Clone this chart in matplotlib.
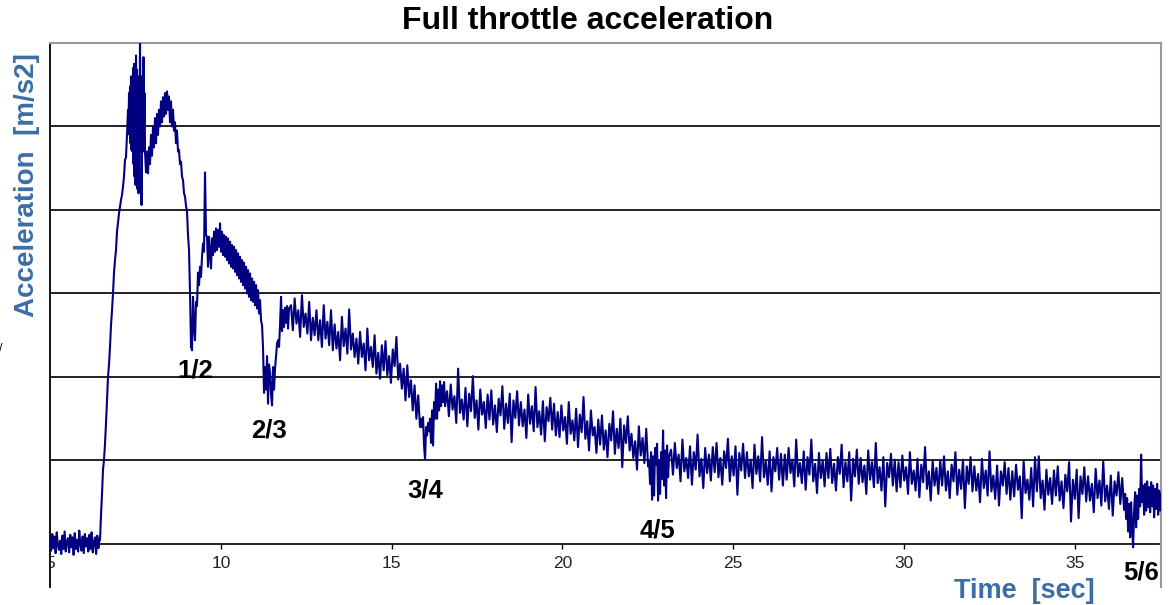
import numpy as np
import matplotlib
matplotlib.use("Agg")
import matplotlib.pyplot as plt

plt.rcParams['font.family'] = ['Liberation Sans', 'DejaVu Sans']
plt.rcParams['path.simplify'] = False

# ---------------- data (acceleration in 1/100 m/s2) ----------------
baseline = [6, -8, 12, -5, 9, -11, 14, -2, -7, 4, -12, 10, -6, 15, -9, 3, 7, -10, 11, -4, 8,
            -13, 13, -6, 5, -9, 16, -1, -8, 9, -11, 12, -3, 7, -9, 11, -6, 14, -10, 2, 8, -12,
            10, -5, 6]
rise = [5, 35, 60, 89, 101, 120, 145, 172, 200, 215, 236, 262, 280, 300, 325, 340, 352, 374,
        385, 396, 404, 412, 418, 428, 440, 460, 463, 490, 520]
peak = [498, 540, 490, 548, 480, 560, 472, 552, 470, 570, 455, 575, 440, 560, 430, 585, 450,
        568, 425, 540, 420, 560, 470, 605, 500, 560, 406, 480, 530, 470, 583, 500, 540, 470]
hump = [445, 470, 444, 475, 455, 490, 465, 500, 475, 510,
        480, 515, 490, 520, 500, 530, 505, 535, 512, 540,
        515, 542, 520, 536, 505, 530, 500, 520, 495, 505,
        480, 495, 470, 472, 455, 458, 440, 436, 420, 416,
        405, 398, 370, 352, 301, 236, 232, 296, 260, 244,
        290, 285, 325, 310, 332, 320, 344, 360, 350, 445,
        370, 368, 332,
        368, 348, 330, 366, 346, 374, 350, 378, 352, 376, 356, 384, 350, 374, 346, 370, 344,
        368, 340, 366, 336, 362, 332, 358, 330, 356, 326, 352, 322, 348, 318, 344, 314, 340,
        310, 337, 306, 332, 300, 328, 296, 324, 292, 318, 290, 314, 286, 310, 282, 304, 276,
        292,
        268, 262, 235, 181, 212, 185, 225, 168, 215, 205, 180, 166, 212, 185, 210, 225, 240,
        244, 236, 262, 296, 255, 280, 260, 283, 265, 285, 258, 282]
band1 = [286, 256, 294, 264, 280, 248, 298, 260, 276, 252, 290, 244,
         271, 250, 280, 244, 268, 236, 286, 246, 266, 238, 280, 232,
         263, 234, 254, 220, 272, 237, 258, 228, 281, 233, 252, 224,
         246, 216, 254, 224, 240, 208, 258, 220, 236, 212, 250, 204,
         229, 198, 238, 208, 243, 202, 225, 193, 233, 213, 248, 197,
         216, 186, 210, 172, 214, 176, 196, 160, 190, 150, 178, 140]
dip34 = [150, 140, 152, 118, 101, 140, 130, 145, 135, 150, 121, 160, 118, 170, 150, 192, 150,
         185, 160, 195, 165, 190, 170, 194, 165]
band2 = [183, 153, 191, 161, 177, 145, 210, 157, 173, 149, 187, 141, 180, 159, 201, 151, 172, 137, 185, 155,
         170, 139, 179, 149, 184, 143, 166, 134, 174, 154, 189, 138, 168, 145, 180, 122, 172, 151, 183, 142,
         170, 141, 161, 127, 179, 144, 165, 135, 188, 140, 159, 131, 171, 123, 164, 147, 175, 137, 168, 130,
         158, 128, 166, 136, 152, 120, 170, 132, 148, 124, 162, 116, 155, 134, 176, 126, 147, 112, 160, 130,
         140, 109, 149, 119, 154, 113, 136, 104, 144, 124, 159, 108, 138, 115, 150, 92, 142, 121, 153, 112,
         132, 103, 123, 89, 141, 106, 127, 97, 138, 93]
dip45 = [100, 72, 110, 53, 105, 58, 115, 95, 120, 52, 100, 60, 110, 78, 136, 70, 112, 55, 118,
         80, 105]
band3 = [113, 83, 121, 91, 107, 75, 125, 87, 103, 79, 117, 71, 110, 89, 131, 81, 102, 67, 115, 85,
         107, 76, 116, 86, 121, 80, 103, 71, 111, 91, 126, 75, 105, 82, 117, 59, 109, 88, 120, 79,
         110, 81, 101, 67, 119, 84, 105, 75, 128, 80, 99, 71, 111, 63, 104, 87, 115, 77, 108, 70,
         107, 77, 115, 85, 101, 69, 125, 81, 97, 73, 111, 65, 104, 83, 125, 75, 96, 61, 109, 79,
         100, 69, 109, 79, 114, 73, 96, 64, 104, 84, 119, 68, 98, 75, 110, 52, 102, 81, 113, 72,
         103, 74, 94, 60, 112, 77, 98, 68, 121, 73, 92, 64, 104, 45, 97, 80, 108, 70, 101, 63,
         98, 68, 106, 76, 92, 60, 110, 72, 88, 64, 102, 56, 95, 74, 116, 66, 87, 52, 100, 70,
         91, 60, 100, 70, 105, 64, 87, 55, 95, 75, 110, 59, 89, 66, 101, 43, 93, 72, 104, 63,
         93, 64, 84, 50, 102, 67, 88, 58, 111, 63, 82, 54, 94, 46, 87, 70, 98, 60, 91, 53,
         87, 57, 95, 65, 81, 31, 99, 61, 77, 53, 91, 45, 104, 63, 105, 55, 76, 41, 89, 59,
         79, 48, 88, 58, 93, 52, 75, 43, 83, 63, 98, 27, 77, 54, 89, 31, 81, 60, 92, 51,
         81, 52, 72, 38, 90, 55, 76, 46, 99, 51, 70, 42, 82, 34, 75, 58, 86, 48, 79, 41]
dip56 = [60, 30, 55, 15, 48, 8, 50, 20, -4, 40, 62, 20, 58, 30, 66, 45, 107, 50, 70, 35, 72,
         40, 75, 44, 68, 38, 74, 45, 70, 32, 66, 42, 72, 35, 64, 40, 60]

# time span (s) covered by each recorded piece of the trace
segment_starts = [5.000, 6.464, 7.298, 7.810, 12.055, 15.861, 16.622, 22.535, 23.179, 36.470]
segment_ends = [6.449, 7.283, 7.781, 11.997, 15.831, 16.564, 22.506, 23.121, 36.440, 37.524]
segment_values = [baseline, rise, peak, hump, band1, dip34, band2, dip45, band3, dip56]

x_ticks = [5, 10, 15, 20, 25, 30, 35]
x_tick_labels = ['5', '10', '15', '20', '25', '30', '35']
grid_levels = [0, 1, 2, 3, 4, 5]
shift_labels = ['1/2', '2/3', '3/4', '4/5', '5/6']

# ---------------- build series ----------------
t_all = np.concatenate([np.linspace(a, b, len(v))
                        for a, b, v in zip(segment_starts, segment_ends, segment_values)])
a_all = np.concatenate([np.asarray(v, dtype=float) / 100.0 for v in segment_values])

# ---------------- figure ----------------
W, H = 1171, 605
fig = plt.figure(figsize=(W / 100, H / 100), dpi=100)
fig.patch.set_facecolor('white')

left, right, top, bottom = 50, 1161, 43, 587
ax = fig.add_axes([left / W, 1 - bottom / H, (right - left) / W, (bottom - top) / H])
ax.set_xlim(5, 37.52)
ax.set_ylim(-0.515, 6.0)

for g in grid_levels:
    ax.axhline(g, color='#111111', lw=1.3, zorder=1)

ax.plot(t_all, a_all, color='#000080', lw=1.5, zorder=3)

ax.set_xticks([])
ax.set_yticks([])
ax.spines['bottom'].set_visible(False)
ax.spines['left'].set_color('black')
ax.spines['left'].set_linewidth(1.3)
for s in ('top', 'right'):
    ax.spines[s].set_color('#999999')
    ax.spines[s].set_linewidth(1.5)

# tick marks and labels drawn inside the box, under the zero line
ax.vlines(x_ticks[1:], -0.06, 0, color='black', lw=1.0, zorder=2)
for xv, lab in zip(x_ticks, x_tick_labels):
    ax.text(xv, -0.23, lab, ha='center', va='center', fontsize=12.5, color='#222222',
            clip_on=True)

# gear-shift annotations (pixel positions of their baselines)
shift_pos = [(195, 377), (269, 438), (425, 497), (658, 537), (1141, 580)]
for lab, (px, py) in zip(shift_labels, shift_pos):
    fig.text(px / W, 1 - py / H, lab, ha='center', va='baseline', fontsize=18.5,
             fontweight='bold', color='black')

fig.text(588 / W, 1 - 29 / H, 'Full throttle acceleration', ha='center', va='baseline',
         fontsize=23, fontweight='bold', color='black')
fig.text(27 / W, 1 - 185 / H, 'Acceleration  [m/s2]', ha='center', va='center',
         rotation=90, fontsize=20, fontweight='bold', color='#3A6EA5')
fig.text(1024 / W, 1 - 598 / H, 'Time  [sec]', ha='center', va='baseline',
         fontsize=19.5, fontweight='bold', color='#3A6EA5')
fig.text(1 / W, 1 - 352 / H, '/', ha='center', va='baseline', fontsize=9, color='black')

fig.savefig('out.png', dpi=100, facecolor='white')
